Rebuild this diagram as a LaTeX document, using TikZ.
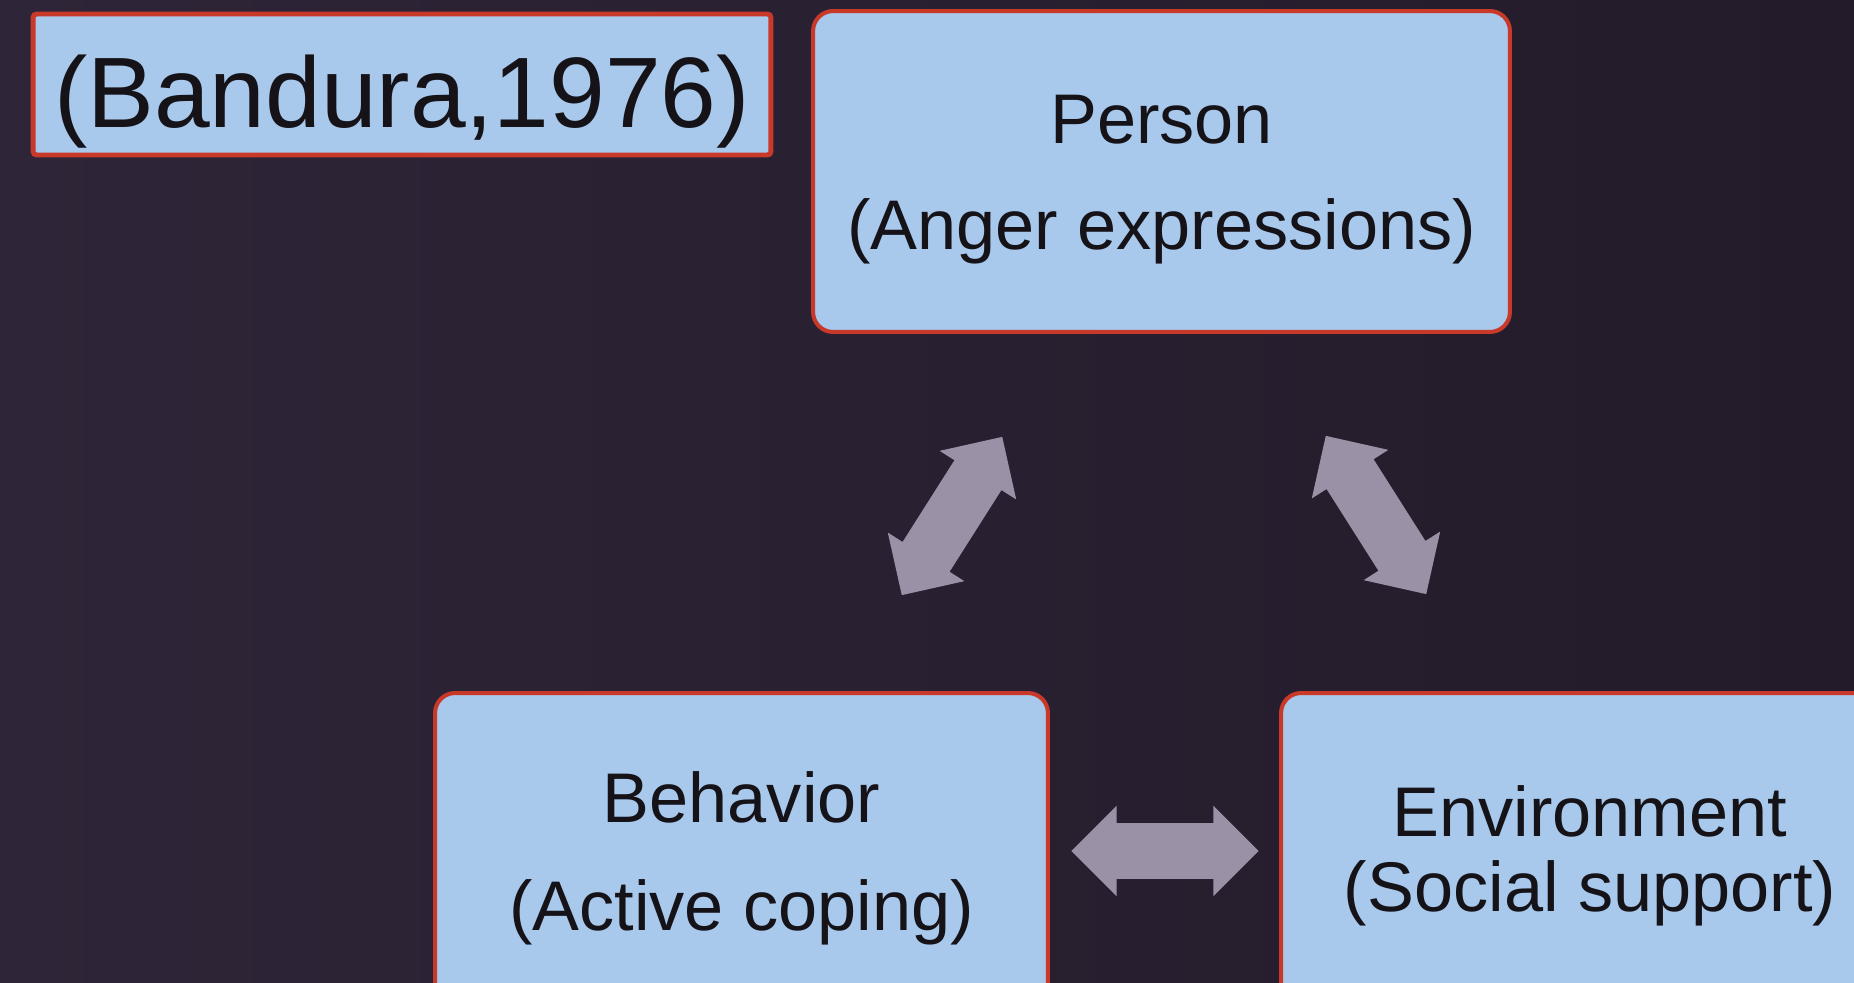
\documentclass[tikz,border=0pt]{standalone}
\usepackage{fontspec}
\setmainfont{Liberation Sans}
\usetikzlibrary{shapes.arrows}
\definecolor{bgx}{HTML}{231B29}
\definecolor{bgl}{HTML}{2E2538}
\definecolor{boxx}{HTML}{A8C8EC}
\definecolor{redx}{HTML}{C8392A}
\definecolor{arx}{HTML}{9B91A7}
\definecolor{txx}{HTML}{151318}

\begin{document}
\begin{tikzpicture}[x=0.02cm,y=-0.02cm,
        box/.style={draw=redx,line width=2.3pt,fill=boxx,rounded corners=0.4cm,
            text=txx,align=center,inner sep=0pt},
        dbl/.style={double arrow,fill=arx,draw=none,inner xsep=0pt,inner ysep=0.55cm,
            minimum height=3.75cm,
            double arrow head extend=0.35cm,double arrow tip angle=90}
    ]
    \useasboundingbox (0,0) rectangle (1854,983);
    \clip (0,0) rectangle (1854,983);
    \shade[left color=bgl,right color=bgx] (0,0) rectangle (1854,983);

    \node[box,rounded corners=2pt,line width=2.8pt,minimum width=14.76cm,minimum height=2.82cm,
        font=\fontsize{57}{60}\selectfont,text height=49pt,text depth=0pt] (cite) at (402,84.5) {(Bandura,1976)};
    \node[box,minimum width=13.94cm,minimum height=6.42cm,text height=97.2pt,text depth=8.4pt,
        font=\fontsize{40}{60.3}\selectfont] (person) at (1161.5,171.5) {Person\\(Anger expressions)};
    \node[box,minimum width=12.26cm,minimum height=6.32cm,text height=98.4pt,text depth=8.4pt,
        font=\fontsize{40}{61.5}\selectfont] (behav) at (741.5,851) {Behavior\\(Active coping)};
    \node[box,minimum width=12.36cm,minimum height=6.24cm,text height=79.9pt,text depth=8.4pt,
        font=\fontsize{40}{43}\selectfont] (envir) at (1590,849) {Environment\\(Social support)};

    % reciprocal links
    \node[dbl,rotate=57.6] (pb) at (952,516) {};
    \node[dbl,rotate=-57.6] (pe) at (1376,515) {};
    \node[dbl] (be) at (1165,851) {};
\end{tikzpicture}
\end{document}
